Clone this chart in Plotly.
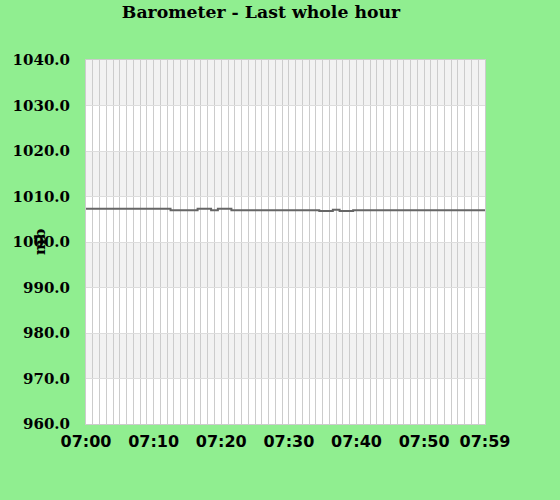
import plotly.graph_objects as go

# minutes past 07:00 and barometer readings (mb)
minutes = list(range(60))
pressure = [
    1007.3, 1007.3, 1007.3, 1007.3, 1007.3, 1007.3, 1007.3, 1007.3, 1007.3, 1007.3,
    1007.3, 1007.3, 1007.3, 1007.0, 1007.0, 1007.0, 1007.0, 1007.3, 1007.3, 1007.0,
    1007.3, 1007.3, 1007.0, 1007.0, 1007.0, 1007.0, 1007.0, 1007.0, 1007.0, 1007.0,
    1007.0, 1007.0, 1007.0, 1007.0, 1007.0, 1006.8, 1006.8, 1007.1, 1006.8, 1006.8,
    1007.0, 1007.0, 1007.0, 1007.0, 1007.0, 1007.0, 1007.0, 1007.0, 1007.0, 1007.0,
    1007.0, 1007.0, 1007.0, 1007.0, 1007.0, 1007.0, 1007.0, 1007.0, 1007.0, 1007.0,
]
tick_pos = [0, 10, 20, 30, 40, 50, 59]
tick_labels = ['07:00', '07:10', '07:20', '07:30', '07:40', '07:50', '07:59']
y_ticks = [960, 970, 980, 990, 1000, 1010, 1020, 1030, 1040]
band_edges = [(970, 980), (990, 1000), (1010, 1020), (1030, 1040)]

fig = go.Figure()
fig.add_trace(go.Scatter(x=minutes, y=pressure, mode='lines',
                         line=dict(color='#666666', width=2, shape='hvh'),
                         hoverinfo='x+y', showlegend=False))

# alternating grey bands
for lo, hi in band_edges:
    fig.add_shape(type='rect', xref='paper', yref='y', x0=0, x1=1, y0=lo, y1=hi,
                  fillcolor='#f2f2f2', line_width=0, layer='below')

fig.add_annotation(text='<b>mb</b>', textangle=-90, xref='paper', yref='paper',
                   x=(40 - 86) / 399, y=0.5, xanchor='center', yanchor='middle',
                   showarrow=False, font=dict(family='DejaVu Serif', size=15, color='black'))

fig.update_xaxes(range=[0, 59], tickmode='array', tickvals=tick_pos, ticktext=tick_labels,
                 showgrid=True, gridcolor='#cccccc', gridwidth=1,
                 minor=dict(dtick=1, tick0=0, showgrid=True, gridcolor='#cccccc', gridwidth=1),
                 showline=True, linecolor='#cccccc', mirror=True, zeroline=False,
                 ticks='', ticklen=0, ticklabelstandoff=3,
                 tickfont=dict(family='DejaVu Sans', size=16, color='black', weight='bold'))
fig.update_yaxes(range=[960, 1040], tickmode='array', tickvals=y_ticks,
                 ticktext=[f'{v:.1f}' for v in y_ticks],
                 showgrid=True, gridcolor='#dddddd', gridwidth=1,
                 showline=True, linecolor='#cccccc', mirror=True, zeroline=False,
                 ticks='', ticklabelstandoff=12,
                 tickfont=dict(family='DejaVu Serif', size=15, color='black', weight='bold'))

fig.update_layout(
    title=dict(text='<b>Barometer - Last whole hour</b>', x=261 / 560, xanchor='center',
               y=1 - 12 / 500, yanchor='middle',
               font=dict(family='DejaVu Serif', size=17.3, color='black')),
    width=560, height=500,
    margin=dict(l=86, r=75, t=60, b=76),
    paper_bgcolor='#90ee90',
    plot_bgcolor='white',
)

# drop the page's default body margin so the chart sits at the window corner
fig.write_html('out.html', config={'displayModeBar': False},
               post_script="document.body.style.margin='0';")
